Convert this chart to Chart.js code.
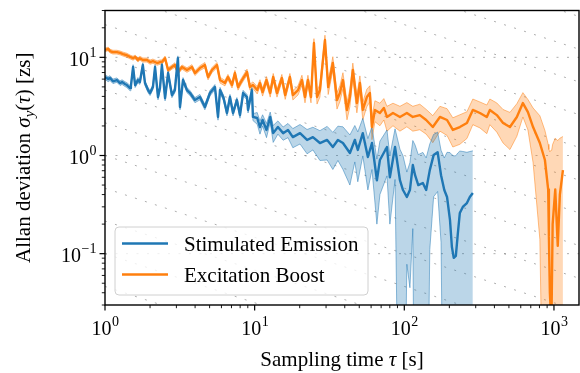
<!DOCTYPE html>
<html>
<head>
<meta charset="utf-8">
<script src="https://cdn.jsdelivr.net/npm/chart.js@4.4.1/dist/chart.umd.min.js"></script>
<style>
  html, body { margin: 0; padding: 0; background: #fff; }
  #wrap { width: 580px; height: 373px; }
</style>
</head>
<body>
<div id="wrap"><canvas id="allan" width="580" height="373"></canvas></div>
<script>
// --- data ---------------------------------------------------------------
const seriesNames = ["Stimulated Emission", "Excitation Boost"];

const blueTau = [1, 1.05, 1.08, 1.13, 1.2, 1.26, 1.3, 1.36, 1.4, 1.47, 1.49, 1.54, 1.59, 1.66, 1.71, 1.79, 1.85, 1.94, 2.0, 2.09,
  2.16, 2.26, 2.33, 2.40, 2.52, 2.64, 2.80, 2.93, 3.07, 3.17, 3.32, 3.53, 3.70, 3.99, 4.31, 4.65, 5.03, 5.43, 5.69, 5.87,
  6.2, 6.53, 6.84, 7.17, 7.61, 7.98, 8.37, 8.89, 9.03, 9.59, 9.74, 10.4, 10.85, 11.3, 12.0, 12.7, 13.3, 14.3, 15.5, 16.7,
  18.0, 20.1, 22.4, 24.5, 27.3, 30.5, 33.3, 36, 38.9, 43.3, 46.7, 48.9, 52.8, 57.1, 60.8, 65.6, 68.7, 76.6, 80.1, 86.7,
  93.5, 98, 104, 109, 114, 118, 124, 133, 140, 148, 157, 167, 176, 185, 193, 202, 208, 214, 221, 228,
  235, 246, 262, 274, 287];
const blueSigma = [6.3, 6.0, 6.15, 5.7, 5.87, 5.47, 5.6, 5.35, 5.22, 4.87, 5.1, 7.97, 5.22, 5.87, 5.6, 8.35, 5.47, 4.64, 4.33, 4.98,
  7.97, 3.94, 4.87, 8.35, 3.85, 6.92, 4.13, 4.64, 9.8, 3.12, 5.87, 4.64, 4.33, 3.67, 3.94, 3.12, 4.33, 4.98, 2.47, 4.64,
  3.85, 2.71, 3.94, 2.71, 3.67, 2.58, 4.33, 3.94, 2.91, 4.64, 2.47, 2.41, 1.95, 2.3, 1.82, 2.47, 1.69, 1.95, 1.69, 1.82,
  1.54, 1.69, 1.44, 1.54, 1.34, 1.44, 1.22, 1.44, 1.34, 1.06, 1.44, 1.14, 1.69, 0.966, 1.34, 0.56, 0.90, 1.22, 0.6, 1.22,
  0.56, 0.445, 0.378, 0.445, 0.80, 0.63, 0.5, 0.525, 0.445, 0.71, 1.01, 1.08, 0.63, 0.445, 0.378, 0.22, 0.117, 0.0906, 0.095, 0.162,
  0.26, 0.299, 0.328, 0.378, 0.415];
const blueErr = [0.35, 0.35, 0.35, 0.3, 0.3, 0.3, 0.3, 0.3, 0.3, 0.3, 0.3, 0.45, 0.3, 0.35, 0.3, 0.45, 0.3, 0.28, 0.25, 0.3,
  0.45, 0.25, 0.3, 0.45, 0.25, 0.4, 0.25, 0.28, 0.55, 0.2, 0.35, 0.28, 0.25, 0.22, 0.25, 0.2, 0.28, 0.3, 0.18, 0.3,
  0.25, 0.18, 0.25, 0.18, 0.22, 0.18, 0.28, 0.25, 0.2, 0.3, 0.2, 0.33, 0.3, 0.3, 0.3, 0.3, 0.33, 0.3, 0.26, 0.3,
  0.34, 0.38, 0.4, 0.4, 0.45, 0.54, 0.5, 0.55, 0.62, 0.56, 0.58, 0.6, 0.7, 0.52, 0.62, 0.36, 0.5, 0.6, 0.4, 0.65,
  0.6, 0.55, 0.3, 0.4, 0.62, 0.65, 0.52, 0.55, 0.5, 0.6, 0.63, 0.65, 0.5, 0.5, 0.7, 0.85, 0.9, 0.9, 0.9, 0.9,
  0.85, 0.8, 0.75, 0.72, 0.7];

const orangeTau = [1, 1.05, 1.08, 1.13, 1.2, 1.26, 1.32, 1.40, 1.47, 1.54, 1.59, 1.66, 1.71, 1.79, 1.91, 2.0, 2.09, 2.23, 2.33, 2.40,
  2.52, 2.64, 2.80, 2.93, 3.07, 3.27, 3.53, 3.81, 3.99, 4.31, 4.65, 4.88, 5.19, 5.60, 5.87, 6.33, 6.63, 7.06, 7.38, 7.74,
  8.23, 8.89, 9.30, 9.74, 10.4, 10.85, 11.3, 12.0, 12.7, 13.3, 14.1, 15.2, 16.0, 17.2, 18.0, 19.5, 20.7, 21.7, 22.7, 23.8,
  24.9, 26.1, 27.3, 29.5, 31.0, 33.3, 35.5, 37.1, 38.9, 41.4, 43.3, 45.3, 48.2, 50.5, 52.8, 56.2, 58.9, 60.8, 63.6, 68.7,
  73, 76.6, 84.0, 93.5, 104, 114, 127, 140, 155, 173, 193, 211, 235, 262, 287, 320, 356, 373, 415, 457,
  508, 565, 620, 670, 725, 805, 870, 915, 925, 939, 952, 965, 980, 1020, 1060, 1095, 1148];
const orangeSigma = [11.9, 12.2, 11.6, 11.3, 11.3, 11.1, 10.8, 10.5, 10.1, 9.8, 10.1, 9.4, 9.8, 9.4, 9.4, 8.95, 9.15, 8.75, 8.95, 8.95,
  9.8, 7.43, 7.97, 8.35, 7.08, 7.97, 7.43, 7.97, 6.92, 7.78, 8.35, 6.3, 7.43, 8.35, 5.87, 5.47, 6.3, 5.22, 6.92, 4.98,
  5.87, 7.08, 4.98, 5.22, 4.64, 5.47, 4.43, 5.87, 4.33, 6.3, 4.33, 6.15, 4.13, 6.3, 4.13, 4.64, 5.87, 3.94, 5.87, 3.94,
  14.0, 3.94, 4.64, 15.0, 4.98, 8.75, 3.67, 4.33, 5.87, 2.91, 3.94, 7.43, 3.42, 5.47, 2.91, 3.94, 4.33, 1.95, 2.91, 2.71,
  3.05, 2.47, 2.71, 2.47, 2.71, 2.47, 2.58, 2.3, 1.95, 2.47, 2.3, 1.82, 1.95, 2.14, 2.91, 2.71, 2.47, 2.91, 2.58, 2.14,
  1.95, 2.47, 3.42, 2.77, 1.95, 1.34, 0.90, 0.45, 0.15, 0.04, 0.025, 0.03, 0.2, 0.45, 0.12, 0.4, 0.71];
const orangeErr = [0.5, 0.5, 0.5, 0.5, 0.5, 0.5, 0.5, 0.5, 0.45, 0.45, 0.45, 0.45, 0.45, 0.45, 0.45, 0.45, 0.45, 0.45, 0.45, 0.45,
  0.5, 0.4, 0.4, 0.45, 0.4, 0.4, 0.4, 0.45, 0.4, 0.45, 0.5, 0.4, 0.45, 0.5, 0.4, 0.35, 0.4, 0.35, 0.45, 0.35,
  0.4, 0.5, 0.35, 0.4, 0.4, 0.45, 0.4, 0.5, 0.4, 0.55, 0.4, 0.55, 0.4, 0.55, 0.45, 0.5, 0.7, 0.5, 0.7, 0.5,
  1.5, 0.6, 0.7, 1.8, 0.8, 1.4, 0.7, 0.8, 1.1, 0.6, 0.8, 1.3, 0.7, 1.0, 0.6, 0.8, 0.8, 0.5, 0.7, 0.7,
  0.75, 0.7, 0.7, 0.7, 0.75, 0.7, 0.75, 0.65, 0.6, 0.7, 0.7, 0.6, 0.65, 0.65, 0.85, 0.8, 0.8, 0.85, 0.85, 0.8,
  0.8, 0.9, 0.95, 0.95, 1.1, 1.2, 0.9, 0.85, 1.0, 1.05, 1.1, 1.1, 1.1, 1.05, 1.3, 1.1, 0.85];

// tau^-1/2 guide levels (sigma at tau = 1 s) and tick values
const guideLevels = [0.0464, 0.1, 0.215, 0.464, 1, 2.154, 4.642, 10, 21.54, 46.42, 100, 215.4, 464.2, 1000, 2154];
const xMajor = [1, 10, 100, 1000];
const yMajor = [0.1, 1, 10];
const xRange = [1, 1470];
const yRange = [0.03, 30];

// --- styling ------------------------------------------------------------
const BLUE = "#1f77b4";
const ORANGE = "#ff7f0e";
const SERIF = "'Liberation Serif', 'DejaVu Serif', serif";
const GUIDE = "rgba(120,120,120,0.6)";
const FLOOR = 1e-4;

function pts(xs, ys) {
  return xs.map((x, i) => ({ x: x, y: ys[i] }));
}
function edge(xs, ys, es, sign) {
  return xs.map((x, i) => ({ x: x, y: Math.max(ys[i] + sign * es[i], FLOOR) }));
}
function minors(majors, lo, hi) {
  const out = [];
  const first = majors[0] / 10;
  [first].concat(majors).forEach(d => {
    for (let m = 2; m <= 9; m++) {
      const v = m * d;
      if (v >= lo && v <= hi) out.push(v);
    }
  });
  return out;
}

const datasets = [];
guideLevels.forEach(c => {
  datasets.push({
    data: [{ x: 1, y: c }, { x: 2000, y: c / Math.sqrt(2000) }],
    borderColor: GUIDE, borderWidth: 1, borderDash: [2, 8.5],
    pointRadius: 0, fill: false, order: 10, clip: 0
  });
});

function addSeries(label, color, fillColor, edgeColor, tau, sig, err) {
  const lowIdx = datasets.length;
  datasets.push({
    data: edge(tau, sig, err, -1), borderColor: edgeColor, borderWidth: 0.9,
    pointRadius: 0, fill: false, order: 5, clip: 0
  });
  datasets.push({
    data: edge(tau, sig, err, 1), borderColor: edgeColor, borderWidth: 0.9,
    backgroundColor: fillColor, pointRadius: 0, fill: lowIdx, order: 5, clip: 0
  });
  datasets.push({
    label: label, data: pts(tau, sig), borderColor: color, borderWidth: 2.4,
    borderJoinStyle: "round", pointRadius: 0, fill: false, order: 1, clip: 0
  });
}
addSeries(seriesNames[0], BLUE, "rgba(31,119,180,0.3)", "rgba(31,119,180,0.55)", blueTau, blueSigma, blueErr);
addSeries(seriesNames[1], ORANGE, "rgba(255,127,14,0.3)", "rgba(255,127,14,0.55)", orangeTau, orangeSigma, orangeErr);

// --- drawing helpers ----------------------------------------------------
function powLabel(ctx, exp, x, baseY, align) {
  const sup = exp < 0 ? "\u2212" + (-exp) : String(exp);
  ctx.font = "20px " + SERIF;
  const wb = ctx.measureText("10").width;
  ctx.font = "14px " + SERIF;
  const ws = ctx.measureText(sup).width;
  const left = align === "center" ? x - (wb + ws) / 2 : x - wb - ws;
  ctx.textAlign = "left";
  ctx.textBaseline = "alphabetic";
  ctx.font = "20px " + SERIF;
  ctx.fillText("10", left, baseY);
  ctx.font = "14px " + SERIF;
  ctx.fillText(sup, left + wb + 0.5, baseY - 9);
}

function richText(ctx, parts, cx, baseY) {
  let total = 0;
  parts.forEach(p => { ctx.font = p[2]; total += ctx.measureText(p[0]).width; });
  let x = cx - total / 2;
  ctx.textAlign = "left";
  ctx.textBaseline = "alphabetic";
  parts.forEach(p => {
    ctx.font = p[2];
    ctx.fillText(p[0], x, baseY + (p[1] || 0));
    x += ctx.measureText(p[0]).width;
  });
}

const axesPlugin = {
  id: "axesPlugin",
  beforeDatasetsDraw(chart) {
    const { ctx, chartArea: a, scales: { y } } = chart;
    ctx.save();
    ctx.strokeStyle = GUIDE;
    ctx.lineWidth = 1;
    ctx.setLineDash([2, 8.5]);
    yMajor.forEach(v => {
      const py = y.getPixelForValue(v);
      ctx.beginPath();
      ctx.moveTo(a.left, py);
      ctx.lineTo(a.right, py);
      ctx.stroke();
    });
    ctx.restore();
  },
  afterDraw(chart) {
    const { ctx, chartArea: a, scales: { x, y } } = chart;
    ctx.save();
    ctx.strokeStyle = "#000";
    ctx.fillStyle = "#000";

    // ticks
    ctx.lineWidth = 1.2;
    xMajor.forEach(v => {
      const px = x.getPixelForValue(v);
      ctx.beginPath(); ctx.moveTo(px, a.bottom); ctx.lineTo(px, a.bottom + 5.5); ctx.stroke();
    });
    yMajor.forEach(v => {
      const py = y.getPixelForValue(v);
      ctx.beginPath(); ctx.moveTo(a.left, py); ctx.lineTo(a.left - 5.5, py); ctx.stroke();
    });
    ctx.lineWidth = 0.9;
    minors(xMajor, xRange[0], xRange[1]).forEach(v => {
      const px = x.getPixelForValue(v);
      ctx.beginPath(); ctx.moveTo(px, a.bottom); ctx.lineTo(px, a.bottom + 3.2); ctx.stroke();
    });
    minors(yMajor, yRange[0], yRange[1]).forEach(v => {
      const py = y.getPixelForValue(v);
      ctx.beginPath(); ctx.moveTo(a.left, py); ctx.lineTo(a.left - 3.2, py); ctx.stroke();
    });

    // frame
    ctx.lineWidth = 1.4;
    ctx.strokeRect(a.left, a.top, a.right - a.left, a.bottom - a.top);

    // tick labels
    xMajor.forEach(v => powLabel(ctx, Math.round(Math.log10(v)), x.getPixelForValue(v), a.bottom + 30, "center"));
    yMajor.forEach(v => powLabel(ctx, Math.round(Math.log10(v)), a.left - 9, y.getPixelForValue(v) + 8.5, "right"));

    // axis labels
    const N = "21px " + SERIF, I = "italic 21px " + SERIF, S = "italic 15px " + SERIF;
    richText(ctx, [["Sampling time ", 0, N], ["\u03c4", 0, I], [" [s]", 0, N]], (a.left + a.right) / 2, 366);
    ctx.save();
    ctx.translate(23, (a.top + a.bottom) / 2);
    ctx.rotate(-Math.PI / 2);
    richText(ctx, [["Allan deviation ", 0, N], ["\u03c3", 0, I], ["y", 4, S], ["(", 0, N], ["\u03c4", 0, I], [")", 0, N], [" [zs]", 0, N]], 0, 7);
    ctx.restore();

    // legend
    const bx = 115, by = 227, bw = 253, bh = 68, r = 4;
    ctx.beginPath();
    ctx.moveTo(bx + r, by);
    ctx.arcTo(bx + bw, by, bx + bw, by + bh, r);
    ctx.arcTo(bx + bw, by + bh, bx, by + bh, r);
    ctx.arcTo(bx, by + bh, bx, by, r);
    ctx.arcTo(bx, by, bx + bw, by, r);
    ctx.closePath();
    ctx.fillStyle = "rgba(255,255,255,0.8)";
    ctx.fill();
    ctx.strokeStyle = "#d0d0d0";
    ctx.lineWidth = 1;
    ctx.stroke();
    const lines = chart.data.datasets.filter(d => d.label);
    lines.forEach((d, i) => {
      const ly = 243.5 + i * 31;
      ctx.strokeStyle = d.borderColor;
      ctx.lineWidth = 2.4;
      ctx.beginPath(); ctx.moveTo(122, ly); ctx.lineTo(168, ly); ctx.stroke();
      ctx.fillStyle = "#000";
      ctx.font = N;
      ctx.textAlign = "left";
      ctx.fillText(d.label, 184, ly + 7.5);
    });
    ctx.restore();
  }
};

new Chart(document.getElementById("allan"), {
  type: "line",
  data: { datasets: datasets },
  options: {
    responsive: false,
    animation: false,
    devicePixelRatio: 1,
    layout: { padding: { left: 0, right: 1, top: 10.5, bottom: 0 } },
    elements: { line: { tension: 0 } },
    scales: {
      x: {
        type: "logarithmic", min: xRange[0], max: xRange[1],
        grid: { display: false }, border: { display: false }, ticks: { display: false },
        afterFit(s) { s.height = 68; }
      },
      y: {
        type: "logarithmic", min: yRange[0], max: yRange[1],
        grid: { display: false }, border: { display: false }, ticks: { display: false },
        afterFit(s) { s.width = 105; }
      }
    },
    plugins: { legend: { display: false }, tooltip: { enabled: false } }
  },
  plugins: [axesPlugin]
});
</script>
</body>
</html>
